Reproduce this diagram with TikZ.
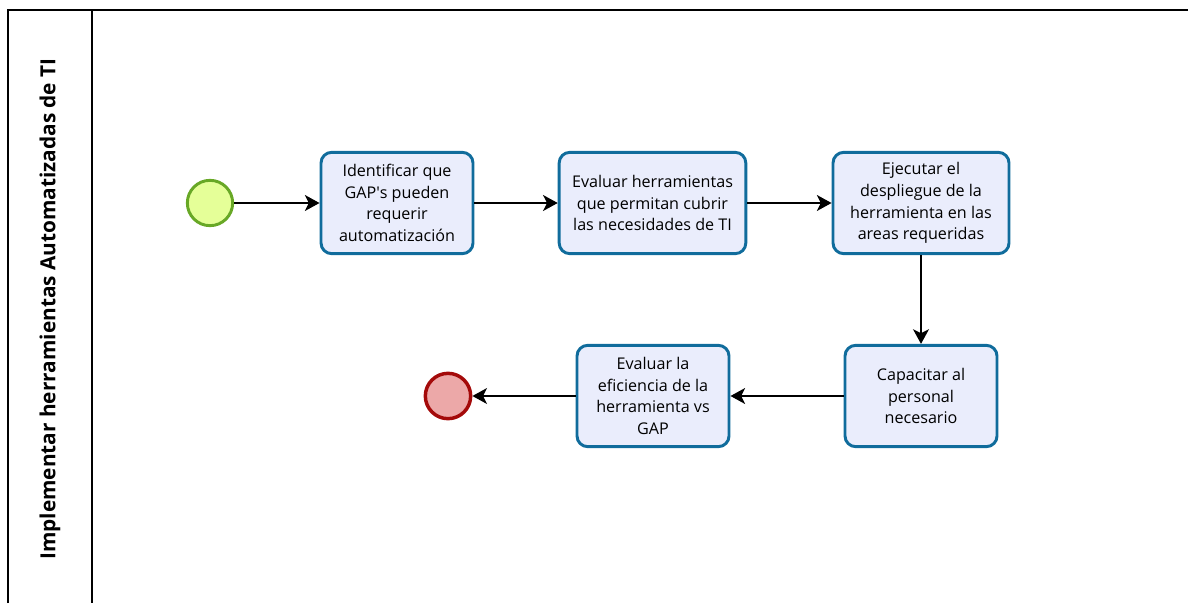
\documentclass[tikz,border=0pt]{standalone}
\usepackage{fontspec}
\setmainfont{Open Sans}
\usetikzlibrary{arrows.meta}
\definecolor{taskfill}{RGB}{234,237,252}
\definecolor{taskline}{RGB}{16,108,156}
\definecolor{startfill}{RGB}{229,255,152}
\definecolor{startline}{RGB}{104,168,38}
\definecolor{endfill}{RGB}{236,168,168}
\definecolor{endline}{RGB}{164,10,10}
\begin{document}
\begin{tikzpicture}[x=0.75pt,y=-0.75pt,
  task/.style={draw=taskline, fill=taskfill, line width=2.2pt, rounded corners=8pt,
    minimum height=76pt, align=center, inner sep=0pt,
    font=\fontsize{12.1}{16.3}\selectfont},
  startev/.style={circle, draw=startline, fill=startfill, line width=2.2pt, minimum size=34pt, inner sep=0pt},
  endev/.style={circle, draw=endline, fill=endfill, line width=2.6pt, minimum size=34pt, inner sep=0pt},
  flow/.style={line width=1.1pt, -{Stealth[length=11pt, width=12pt, inset=3pt]}},
  pool/.style={line width=1.4pt}]
\useasboundingbox (0,0) rectangle (1188,603);
% pool and lane frame
\draw[pool] (8,603) -- (8,10) -- (1188,10);
\draw[pool] (92,10) -- (92,603);
\node[rotate=90, font=\fontsize{15.6}{18}\selectfont\bfseries] (lane) at (50,309)
  {Implementar herramientas Automatizadas de TI};
% events
\node[startev] (start) at (210,203) {};
\node[endev] (end) at (448,396) {};
% tasks
\node[task, minimum width=114pt] (t1) at (397,203)
  {Identificar que\\GAP\textquotesingle s pueden\\requerir\\automatización};
\node[task, minimum width=140pt] (t2) at (652.5,203)
  {Evaluar herramientas\\que permitan cubrir\\las necesidades de TI};
\node[task, minimum width=132pt] (t3) at (921,203)
  {Ejecutar el\\despliegue de la\\herramienta en las\\areas requeridas};
\node[task, minimum width=114pt] (t4) at (921,396)
  {Capacitar al\\personal\\necesario};
\node[task, minimum width=114pt] (t5) at (653,396)
  {Evaluar la\\eficiencia de la\\herramienta vs\\GAP};
% sequence flows
\draw[flow] (start) -- (t1);
\draw[flow] (t1) -- (t2);
\draw[flow] (t2) -- (t3);
\draw[flow] (t3) -- (t4);
\draw[flow] (t4) -- (t5);
\draw[flow] (t5) -- (end);
\end{tikzpicture}
\end{document}
